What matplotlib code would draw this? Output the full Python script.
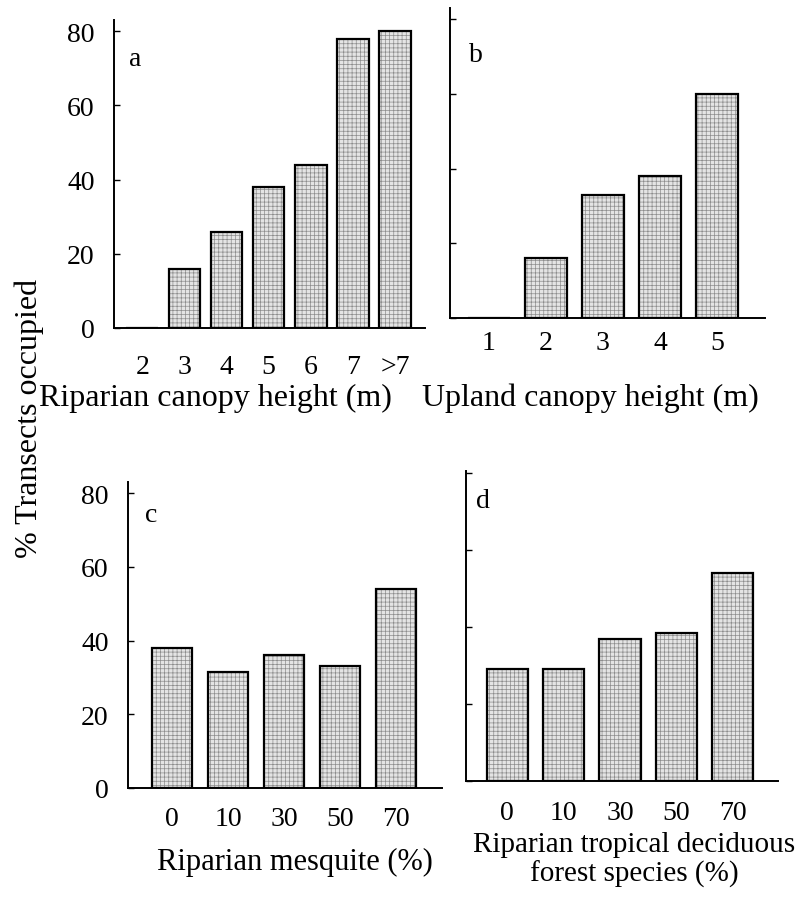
import numpy as np
import matplotlib
matplotlib.use("Agg")
import matplotlib.pyplot as plt

plt.rcParams["font.family"] = ["Liberation Serif", "DejaVu Serif"]
plt.rcParams["hatch.linewidth"] = 0.5

# a: riparian canopy height
cats_a = ["2", "3", "4", "5", "6", "7", ">7"]
vals_a = [0, 16, 26, 38, 44, 78, 80]
# b: upland canopy height
cats_b = ["1", "2", "3", "4", "5"]
vals_b = [0, 16, 33, 38, 60]
# c: riparian mesquite
cats_c = ["0", "10", "30", "50", "70"]
vals_c = [38, 31.5, 36, 33, 54]
# d: riparian tropical deciduous forest species
cats_d = ["0", "10", "30", "50", "70"]
vals_d = [29, 29, 37, 38.5, 54]

yticks = [0, 20, 40, 60, 80]

W, H = 801, 903
fig = plt.figure(figsize=(W / 100, H / 100), dpi=100)


def px_axes(left, top, right, bottom):
    return fig.add_axes([left / W, 1 - bottom / H, (right - left) / W, (bottom - top) / H])


def panel(box, cats, vals, xlim, ymax, width, letter, letter_xy, show_ylab, xpad):
    ax = px_axes(*box)
    x = np.arange(len(cats))
    # stippled fill, then black outline
    ax.bar(x, vals, width=width, color="#e4e4e4", edgecolor="#8c8c8c",
           linewidth=0, hatch="++++")
    ax.bar(x, vals, width=width, fill=False, edgecolor="black", linewidth=1.6)
    ax.set_xlim(*xlim)
    ax.set_ylim(0, ymax)
    ax.set_xticks(x)
    ax.set_xticklabels(cats)
    ax.set_yticks(yticks)
    if not show_ylab:
        ax.set_yticklabels([])
    ax.tick_params(axis="x", length=0, pad=xpad, labelsize=20)
    ax.tick_params(axis="y", direction="in", length=4, width=1, pad=14, labelsize=20)
    for s in ["top", "right"]:
        ax.spines[s].set_visible(False)
    for s in ["left", "bottom"]:
        ax.spines[s].set_linewidth(1.4)
    fig.text(letter_xy[0] / W, 1 - letter_xy[1] / H, letter, fontsize=20,
             ha="center", va="center")
    return ax


panel((114, 21, 425, 329), cats_a, vals_a, (-0.67, 6.71), 83, 0.75, "a", (135, 60), True, 19)
panel((450, 9, 765, 319), cats_b, vals_b, (-0.68, 4.84), 83, 0.73, "b", (476, 55), False, 9)
panel((128, 483, 442, 789), cats_c, vals_c, (-0.79, 4.82), 83, 0.72, "c", (151, 516), True, 13)
panel((466, 472, 778, 782), cats_d, vals_d, (-0.73, 4.8), 80.5, 0.73, "d", (483, 502), False, 14)

fig.text(215 / W, 1 - 398 / H, "Riparian canopy height (m)", fontsize=23, ha="center", va="center")
fig.text(590 / W, 1 - 398 / H, "Upland canopy height (m)", fontsize=23, ha="center", va="center")
fig.text(295 / W, 1 - 862 / H, "Riparian mesquite (%)", fontsize=22, ha="center", va="center")
fig.text(634 / W, 1 - 860 / H, "Riparian tropical deciduous\nforest species (%)", fontsize=21,
         ha="center", va="center", multialignment="center", linespacing=1.1)
fig.text(29 / W, 1 - 418 / H, "% Transects occupied", fontsize=23, rotation=90,
         ha="center", va="center")

fig.savefig("out.png", dpi=100)
